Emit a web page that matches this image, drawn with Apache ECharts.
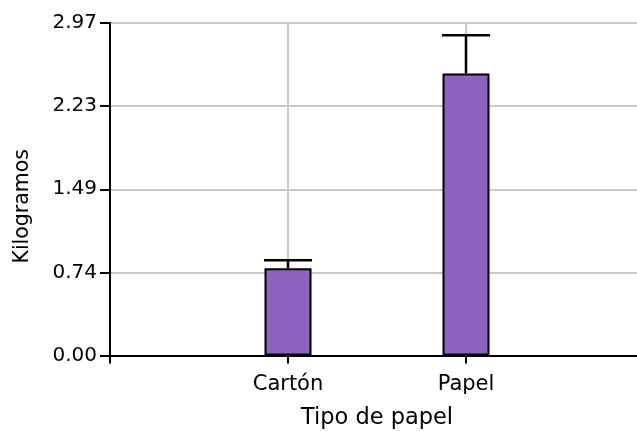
<!DOCTYPE html>
<html>
<head>
<meta charset="utf-8">
<script src="https://cdn.jsdelivr.net/npm/echarts@6/dist/echarts.min.js"></script>
<style>
  html, body { margin: 0; padding: 0; background: #fff; }
  #chart { width: 637px; height: 431px; }
</style>
</head>
<body>
<div id="chart"></div>
<script>
// Mean weight per paper type, with the upper end of each error bar
const categories = ['Cartón', 'Papel'];
const means = [0.78, 2.52];
const upperErrors = [0.85, 2.86];
const yTickLabels = ['0.00', '0.74', '1.49', '2.23', '2.97'];
const yStep = 0.7425;
const yMax = 2.97;

const positions = categories.map((_, i) => i + 1);
const font = 'DejaVu Sans';
const ink = '#000';

const chart = echarts.init(document.getElementById('chart'), null, { renderer: 'canvas' });

chart.setOption({
  animation: false,
  backgroundColor: '#fff',
  // plot runs past the right edge so the x axis line and grid lines reach it
  grid: { left: 110, top: 23, width: 534, height: 332.5, containLabel: false, outerBoundsMode: 'none' },
  xAxis: {
    type: 'value',
    min: 0,
    max: 3,
    interval: 1,
    name: 'Tipo de papel',
    nameLocation: 'middle',
    nameGap: 51,
    nameTextStyle: { fontFamily: font, fontSize: 22.5, color: ink },
    axisLine: { show: true, lineStyle: { color: '#000', width: 2 } },
    axisTick: { show: true, length: 8, lineStyle: { color: '#000', width: 2 } },
    axisLabel: {
      margin: 19,
      fontFamily: font,
      fontSize: 21,
      color: ink,
      formatter: v => categories[Math.round(v) - 1] || ''
    },
    splitLine: { show: true, lineStyle: { color: '#c8c8c8', width: 2 } }
  },
  yAxis: {
    type: 'value',
    min: 0,
    max: yMax,
    interval: yStep,
    name: 'Kilogramos',
    nameLocation: 'middle',
    nameGap: 77,
    nameTextStyle: { fontFamily: font, fontSize: 20.5, color: ink, padding: [0, 34, 0, 0] },
    axisLine: { show: true, lineStyle: { color: '#000', width: 2 } },
    axisTick: { show: true, length: 10, lineStyle: { color: '#000', width: 2 } },
    axisLabel: {
      margin: 13,
      fontFamily: font,
      fontSize: 20,
      color: ink,
      formatter: v => yTickLabels[Math.round(v / yStep)]
    },
    splitLine: { show: true, lineStyle: { color: '#c8c8c8', width: 2 } }
  },
  series: [
    {
      type: 'bar',
      data: positions.map((x, i) => [x, means[i]]),
      barWidth: 47,
      itemStyle: { color: '#8c63be', borderColor: '#000', borderWidth: 2 },
      z: 3
    },
    {
      type: 'custom',
      data: positions.map((x, i) => [x, means[i], upperErrors[i]]),
      z: 4,
      renderItem: (params, api) => {
        const base = api.coord([api.value(0), api.value(1)]);
        const top = api.coord([api.value(0), api.value(2)]);
        const half = 24;
        const style = { stroke: '#000', lineWidth: 2.5 };
        return {
          type: 'group',
          children: [
            { type: 'line', shape: { x1: base[0], y1: base[1], x2: top[0], y2: top[1] }, style },
            { type: 'line', shape: { x1: top[0] - half, y1: top[1], x2: top[0] + half, y2: top[1] }, style }
          ]
        };
      }
    }
  ]
});
</script>
</body>
</html>
